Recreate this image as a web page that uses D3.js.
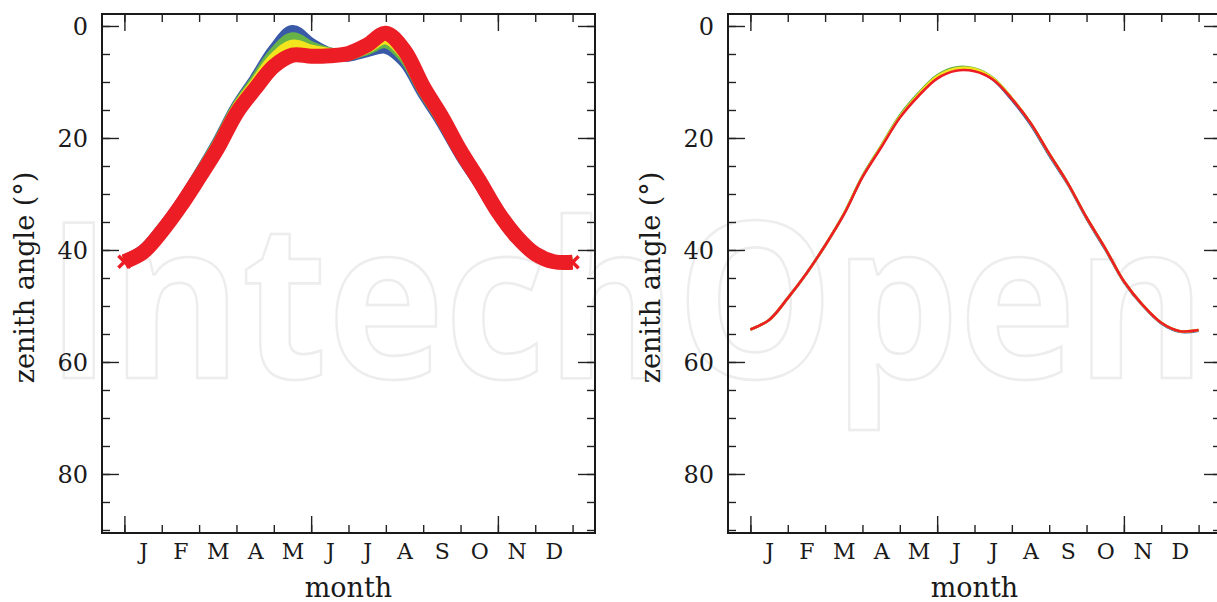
<!DOCTYPE html>
<html>
<head>
<meta charset="utf-8">
<script src="https://cdn.jsdelivr.net/npm/d3@7"></script>
<style>
  html, body { margin: 0; padding: 0; background: #fff; }
  svg { display: block; }
  .lbl { font-family: "DejaVu Serif", serif; fill: #1a1a1a; }
</style>
</head>
<body>
<svg id="chart" width="1217" height="602"></svg>
<script>
// ---- data -------------------------------------------------------------
const monthLetters = ["J", "F", "M", "A", "M", "J", "J", "A", "S", "O", "N", "D"];
const monthCenters = [0.5, 1.5, 2.5, 3.5, 4.5, 5.5, 6.5, 7.5, 8.5, 9.5, 10.5, 11.5];
const monthTicks = [0, 1, 2, 3, 4, 5, 6, 7, 8, 9, 10, 11, 12];
const monthTicksLong = [0, 5, 10];
const angleTicksLabelled = [0, 20, 40, 60, 80];
const angleTicksMinor = [0, 5, 10, 15, 20, 25, 30, 35, 40, 45, 50, 55, 60, 65, 70, 75, 80, 85, 90];

// sample positions (months since 1 January)
const sampleMonth = [0, 0.5, 1, 1.5, 2, 2.5, 3, 3.5, 4, 4.5, 5, 5.5, 6, 6.5, 7, 7.5, 8, 8.5, 9, 9.5, 10, 10.5, 11, 11.5, 12];

// left panel: zenith angle (deg)
const leftBlue   = [41.9, 40.1, 36.3, 31.8, 26.5, 20.8, 14.5, 9.5, 4.3, 0.9, 3.2, 4.9, 5.3, 4.5, 3.9, 6.4, 12.0, 17.2, 23.0, 28.1, 33.5, 37.9, 40.9, 42.2, 42.3];
const leftGreen  = [42.0, 40.2, 36.4, 31.9, 26.6, 21.0, 14.7, 9.9, 5.0, 2.2, 3.8, 4.9, 5.1, 4.1, 2.9, 5.6, 11.5, 16.8, 22.7, 27.9, 33.4, 37.8, 40.8, 42.2, 42.3];
const leftYellow = [42.0, 40.3, 36.5, 32.0, 26.8, 21.3, 15.0, 10.4, 5.9, 3.5, 4.4, 5.0, 5.0, 3.8, 2.2, 5.0, 11.2, 16.5, 22.5, 27.7, 33.3, 37.7, 40.8, 42.1, 42.2];
const leftRed    = [42.1, 40.4, 36.7, 32.2, 27.1, 21.8, 15.6, 11.2, 7.2, 5.2, 5.4, 5.3, 4.9, 3.4, 1.3, 4.4, 10.8, 16.2, 22.3, 27.6, 33.2, 37.6, 40.7, 42.1, 42.2];

// right panel: zenith angle (deg)
const rightBlue   = [54.2, 52.5, 48.6, 44.2, 39.2, 33.6, 26.9, 21.5, 16.1, 12.1, 8.9, 7.5, 7.8, 9.6, 13.2, 17.6, 23.1, 28.3, 34.4, 39.9, 45.7, 49.9, 53.1, 54.6, 54.4];
const rightGreen  = [54.2, 52.5, 48.6, 44.2, 39.2, 33.6, 26.8, 21.4, 16.0, 12.0, 8.8, 7.4, 7.6, 9.3, 12.9, 17.3, 22.8, 28.1, 34.2, 39.7, 45.6, 49.8, 53.0, 54.5, 54.3];
const rightYellow = [54.2, 52.5, 48.6, 44.2, 39.2, 33.6, 26.9, 21.5, 16.2, 12.2, 9.0, 7.6, 7.7, 9.4, 12.9, 17.3, 22.8, 28.1, 34.2, 39.7, 45.6, 49.8, 53.0, 54.5, 54.3];
const rightRed    = [54.2, 52.5, 48.6, 44.2, 39.2, 33.7, 27.0, 21.7, 16.4, 12.5, 9.4, 8.0, 8.1, 9.6, 13.0, 17.3, 22.8, 28.1, 34.2, 39.7, 45.6, 49.8, 53.0, 54.5, 54.3];

const seriesColors = ["#3a5aa8", "#68b347", "#f3e51d", "#ec1d25"];

// ---- layout -----------------------------------------------------------
const svg = d3.select("#chart");
const panelW = 493, panelH = 519, panelTop = 14;
const x = d3.scaleLinear().domain([-0.6, 12.6]).range([0, panelW]);
const y = d3.scaleLinear().domain([-2.14, 90.54]).range([0, panelH]);

// faint outlined watermark behind everything
svg.append("text")
  .attr("x", 46).attr("y", 378)
  .attr("textLength", 1160).attr("lengthAdjust", "spacingAndGlyphs")
  .style("font-family", "'Open Sans', sans-serif")
  .style("font-weight", 700)
  .style("font-size", "218px")
  .attr("fill", "none")
  .attr("stroke", "#ededed")
  .attr("stroke-width", 2.6)
  .text("IntechOpen");

function drawPanel(left, series, opts) {
  const g = svg.append("g").attr("transform", `translate(${left},${panelTop})`);
  const clipId = "clip" + left;
  g.append("clipPath").attr("id", clipId)
    .append("rect").attr("width", panelW).attr("height", panelH);

  const plot = g.append("g").attr("clip-path", `url(#${clipId})`);
  const line = d3.line()
    .x((d, i) => x(sampleMonth[i]))
    .y(d => y(d))
    .curve(d3.curveCatmullRom.alpha(0.5));

  series.forEach((vals, k) => {
    const isRed = k === series.length - 1;
    plot.append("path")
      .attr("d", line(vals))
      .attr("fill", "none")
      .attr("stroke", seriesColors[k])
      .attr("stroke-width", isRed ? opts.redWidth : opts.width)
      .attr("stroke-linejoin", "round")
      .attr("stroke-linecap", "butt");
    if (isRed && opts.markers) {
      // cross markers at the first and last samples
      const ends = [0, vals.length - 1];
      plot.selectAll(null).data(ends).join("path")
        .attr("transform", i => `translate(${x(sampleMonth[i])},${y(vals[i])})`)
        .attr("d", "M-6,-6L6,6M-6,6L6,-6")
        .attr("stroke", seriesColors[k])
        .attr("stroke-width", 3.5)
        .attr("fill", "none");
    }
  });

  const tickStyle = sel => {
    sel.select(".domain").remove();
    sel.selectAll(".tick line").attr("stroke", "#222").attr("stroke-width", 1.4);
  };

  // angle ticks, inward on both sides
  g.append("g").call(d3.axisLeft(y).tickValues(angleTicksMinor).tickSize(-8).tickFormat("")).call(tickStyle);
  g.append("g").call(d3.axisLeft(y).tickValues(angleTicksLabelled).tickSize(-17).tickPadding(14).tickFormat(d3.format("d")))
    .call(tickStyle)
    .call(s => s.selectAll("text").attr("class", "lbl").style("font-size", "24px").attr("dy", "0.36em"));
  g.append("g").attr("transform", `translate(${panelW},0)`)
    .call(d3.axisRight(y).tickValues(angleTicksMinor).tickSize(-8).tickFormat("")).call(tickStyle);
  g.append("g").attr("transform", `translate(${panelW},0)`)
    .call(d3.axisRight(y).tickValues(angleTicksLabelled).tickSize(-17).tickFormat("")).call(tickStyle);

  // month ticks, inward on top and bottom
  g.append("g").attr("transform", `translate(0,${panelH})`)
    .call(d3.axisBottom(x).tickValues(monthTicks).tickSize(-8).tickFormat("")).call(tickStyle);
  g.append("g").attr("transform", `translate(0,${panelH})`)
    .call(d3.axisBottom(x).tickValues(monthTicksLong).tickSize(-17).tickFormat("")).call(tickStyle);
  g.append("g")
    .call(d3.axisTop(x).tickValues(monthTicks).tickSize(-8).tickFormat("")).call(tickStyle);
  g.append("g")
    .call(d3.axisTop(x).tickValues(monthTicksLong).tickSize(-17).tickFormat("")).call(tickStyle);

  // month letters
  g.append("g").attr("transform", `translate(0,${panelH})`)
    .call(d3.axisBottom(x).tickValues(monthCenters).tickSize(0).tickPadding(10).tickFormat((d, i) => monthLetters[i]))
    .call(s => s.select(".domain").remove())
    .call(s => s.selectAll("text").attr("class", "lbl").style("font-size", "22px"));

  // frame
  g.append("rect")
    .attr("width", panelW).attr("height", panelH)
    .attr("fill", "none").attr("stroke", "#1a1a1a").attr("stroke-width", 2);

  // axis titles
  g.append("text").attr("class", "lbl")
    .attr("x", panelW / 2).attr("y", panelH + 64)
    .attr("text-anchor", "middle")
    .style("font-size", "27px")
    .text("month");
  g.append("text").attr("class", "lbl")
    .attr("transform", `translate(-68,${panelH / 2 + 4}) rotate(-90)`)
    .attr("text-anchor", "middle")
    .style("font-size", "27px")
    .text("zenith angle (°)");
}

drawPanel(102, [leftBlue, leftGreen, leftYellow, leftRed], { width: 12, redWidth: 15, markers: true });
drawPanel(728, [rightBlue, rightGreen, rightYellow, rightRed], { width: 2.6, redWidth: 2.6, markers: false });
</script>
</body>
</html>
